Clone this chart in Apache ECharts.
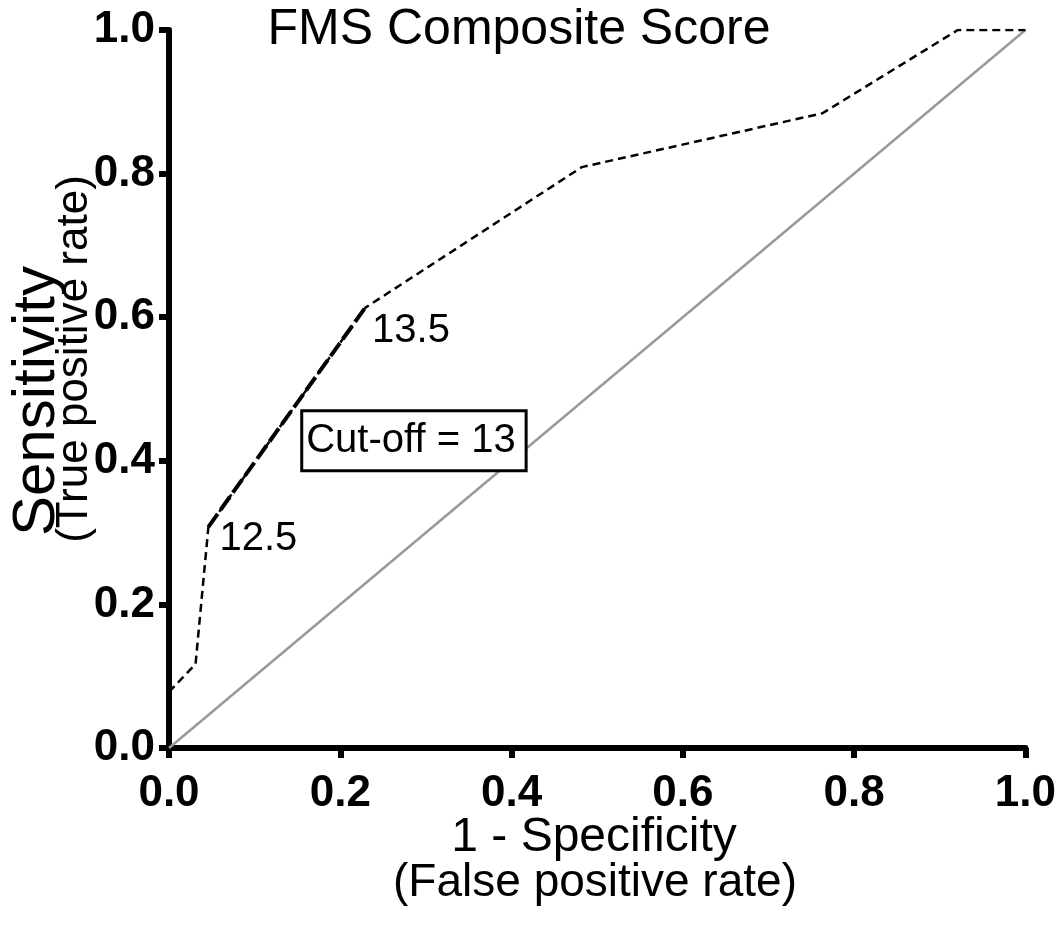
<!DOCTYPE html>
<html>
<head>
<meta charset="utf-8">
<script src="https://cdn.jsdelivr.net/npm/echarts@6/dist/echarts.min.js"></script>
<style>
html,body{margin:0;padding:0;background:#fff;}
#chart{width:1059px;height:933px;}
</style>
</head>
<body>
<div id="chart"></div>
<script>
// ROC curve data (1 - specificity, sensitivity)
const rocFPR = [0, 0.031, 0.046, 0.229, 0.482, 0.763, 0.921, 1.0];
const rocTPR = [0.078, 0.117, 0.308, 0.613, 0.809, 0.884, 1.0, 1.0];
// highlighted segment between cut-off points 12.5 and 13.5
const cutFPR = [0.046, 0.229];
const cutTPR = [0.308, 0.613];
const cutLabels = ['12.5', '13.5'];
// reference diagonal
const diagX = [0, 1];
const diagY = [0, 1];
// annotation
const boxText = 'Cut-off = 13';
const boxAt = [0.286, 0.428];

const titleText = 'FMS Composite Score';
const xTitle = '1 - Specificity';
const xSubTitle = '(False positive rate)';
const yTitle = 'Sensitivity';
const ySubTitle = '(True positive rate)';

const FONT = '"Liberation Sans", Arial, Helvetica, sans-serif';
const chart = echarts.init(document.getElementById('chart'), null, {renderer: 'canvas'});

const zip = (a, b) => a.map((v, i) => [v, b[i]]);

const axisCommon = {
  type: 'value', min: 0, max: 1, interval: 0.2,
  axisLine: {show: true, lineStyle: {color: '#000', width: 6}},
  axisTick: {show: true, inside: false, length: 10, lineStyle: {color: '#000', width: 6}},
  splitLine: {show: false},
  axisLabel: {
    color: '#000', fontSize: 44, fontWeight: 'bold', fontFamily: FONT,
    formatter: v => v.toFixed(1)
  }
};

const annoLabel = {color: '#000', fontSize: 40, fontFamily: FONT, textBorderWidth: 0, opacity: 1};

const option = {
  animation: false,
  backgroundColor: '#fff',
  grid: {left: 169, right: 33, top: 30, bottom: 185, containLabel: false},
  xAxis: Object.assign({}, axisCommon, {
    axisLabel: Object.assign({}, axisCommon.axisLabel, {margin: 24})
  }),
  yAxis: Object.assign({}, axisCommon, {
    axisLabel: Object.assign({}, axisCommon.axisLabel, {margin: 14})
  }),
  series: [
    {
      type: 'line', data: zip(diagX, diagY), symbol: 'none', silent: true,
      lineStyle: {color: '#999', width: 2.5}, z: 1
    },
    {
      type: 'line', data: zip(rocFPR, rocTPR), symbol: 'none', silent: true,
      lineStyle: {color: '#000', width: 2.5, type: [8, 5]}, z: 2
    },
    {
      type: 'line', data: zip(cutFPR, cutTPR), symbol: 'none', silent: true,
      lineStyle: {color: '#000', width: 4, type: [16, 5]}, z: 3
    },
    {
      type: 'scatter', silent: true, symbolSize: 0, z: 4,
      itemStyle: {opacity: 1},
      data: [
        {value: [cutFPR[0], cutTPR[0]], label: Object.assign({show: true, formatter: cutLabels[0], position: 'right', offset: [6, 12]}, annoLabel)},
        {value: [cutFPR[1], cutTPR[1]], label: Object.assign({show: true, formatter: cutLabels[1], position: 'right', offset: [2, 23]}, annoLabel)}
      ]
    },
    {
      type: 'scatter', silent: true, symbolSize: 0, z: 5,
      itemStyle: {opacity: 1},
      data: [{value: boxAt}],
      label: Object.assign({
        show: true, position: 'inside', formatter: boxText,
        backgroundColor: '#fff', borderColor: '#000', borderWidth: 3,
        padding: [9, 9, 8, 3]
      }, annoLabel)
    }
  ],
  graphic: [
    {type: 'text', x: 519, y: 30, z: 10,
     style: {text: titleText, fill: '#000', font: '50px ' + FONT, textAlign: 'center', textVerticalAlign: 'middle'}},
    {type: 'text', x: 594, y: 838, z: 10,
     style: {text: xTitle, fill: '#000', font: '48px ' + FONT, textAlign: 'center', textVerticalAlign: 'middle'}},
    {type: 'text', x: 595, y: 883, z: 10,
     style: {text: xSubTitle, fill: '#000', font: '46px ' + FONT, textAlign: 'center', textVerticalAlign: 'middle'}},
    {type: 'text', x: 37, y: 401, rotation: Math.PI / 2, z: 10,
     style: {text: yTitle, fill: '#000', font: '60px ' + FONT, textAlign: 'center', textVerticalAlign: 'middle'}},
    {type: 'text', x: 75, y: 359, rotation: Math.PI / 2, z: 10,
     style: {text: ySubTitle, fill: '#000', font: '44px ' + FONT, textAlign: 'center', textVerticalAlign: 'middle'}}
  ]
};
chart.setOption(option);
</script>
</body>
</html>
